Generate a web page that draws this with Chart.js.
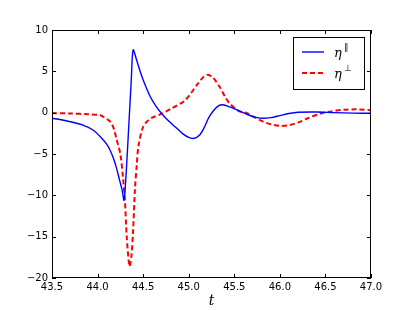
<!DOCTYPE html>
<html>
<head>
<meta charset="UTF-8">
<title>eta</title>
<script src="https://cdn.jsdelivr.net/npm/chart.js"></script>
<style>
  body { margin: 0; background: #fff; }
  canvas { display: block; }
</style>
</head>
<body>
<canvas id="grafico" width="413" height="310"></canvas>
<script>
// eta parallel (azul, continua)
var tPar = [43.5, 43.6, 43.7, 43.84, 43.95, 44.03, 44.1, 44.14, 44.18, 44.21, 44.24, 44.27, 44.29,
  44.31, 44.34, 44.37, 44.39, 44.43, 44.47, 44.52, 44.58, 44.64, 44.7, 44.76, 44.85, 44.93, 45.0,
  45.06, 45.12, 45.17, 45.22, 45.28, 45.33, 45.37, 45.45, 45.53, 45.65, 45.75, 45.82, 45.9,
  46.0, 46.1, 46.2, 46.4, 46.6, 46.8, 47.0];
var etaPar = [-0.68, -0.85, -1.1, -1.5, -2.1, -2.9, -3.8, -4.6, -5.7, -6.8, -8.1, -9.4, -10.6,
  -8.0, -2.1, 4.0, 7.6, 6.3, 4.9, 3.4, 1.9, 0.8, -0.07, -0.8, -1.7, -2.5, -3.0,
  -3.1, -2.7, -1.8, -0.6, 0.35, 0.85, 0.95, 0.7, 0.35, -0.25, -0.6, -0.68, -0.6,
  -0.35, -0.1, 0.05, 0.08, 0.0, -0.05, -0.07];

// eta perpendicular (vermelho, tracejada)
var tPerp = [43.5, 43.7, 43.9, 44.03, 44.07, 44.14, 44.18, 44.21, 44.25, 44.28, 44.3, 44.32, 44.35,
  44.37, 44.39, 44.41, 44.43, 44.45, 44.5, 44.54, 44.6, 44.67, 44.81, 44.96, 45.1, 45.16,
  45.21, 45.27, 45.34, 45.4, 45.45, 45.55, 45.64, 45.73, 45.82, 45.9, 46.0, 46.1, 46.2, 46.3,
  46.45, 46.55, 46.7, 46.85, 47.0];
var etaPerp = [-0.05, -0.1, -0.2, -0.3, -0.55, -1.1, -2.0, -3.3, -5.0, -8.0, -10.6, -15.0, -18.6,
  -17.5, -14.2, -9.3, -6.3, -3.9, -1.7, -1.1, -0.6, -0.3, 0.5, 1.5, 3.5, 4.3,
  4.6, 4.2, 3.1, 1.9, 1.1, 0.2, -0.07, -0.6, -1.1, -1.4, -1.6, -1.5, -1.2, -0.7,
  -0.1, 0.12, 0.35, 0.4, 0.3];

var legendSup = ["\u2225", "\u22A5"];

function pontos(ts, vs) {
  var out = [];
  for (var i = 0; i < ts.length; i++) out.push({ x: ts[i], y: vs[i] });
  return out;
}

// moldura, ticks para dentro e legenda no estilo do matplotlib
var moldura = {
  id: "moldura",
  afterDraw: function (chart) {
    var ctx = chart.ctx;
    var a = chart.chartArea;
    var sx = chart.scales.x, sy = chart.scales.y;
    ctx.save();
    ctx.strokeStyle = "#000";
    ctx.lineWidth = 1;
    ctx.strokeRect(a.left + 0.5, a.top + 0.5, a.right - a.left - 1, a.bottom - a.top - 1);
    ctx.beginPath();
    sx.ticks.forEach(function (t) {
      var px = Math.round(sx.getPixelForValue(t.value)) + 0.5;
      ctx.moveTo(px, a.bottom); ctx.lineTo(px, a.bottom - 4);
      ctx.moveTo(px, a.top); ctx.lineTo(px, a.top + 4);
    });
    sy.ticks.forEach(function (t) {
      var py = Math.round(sy.getPixelForValue(t.value)) + 0.5;
      ctx.moveTo(a.left, py); ctx.lineTo(a.left + 4, py);
      ctx.moveTo(a.right, py); ctx.lineTo(a.right - 4, py);
    });
    ctx.stroke();

    // legenda
    var bx = a.right - 78, by = a.top + 7, bw = 71, bh = 52;
    ctx.fillStyle = "#fff";
    ctx.fillRect(bx, by, bw, bh);
    ctx.strokeStyle = "#000";
    ctx.strokeRect(bx + 0.5, by + 0.5, bw, bh);
    chart.data.datasets.forEach(function (ds, i) {
      var y = by + 15 + i * 21;
      ctx.strokeStyle = ds.borderColor;
      ctx.lineWidth = ds.borderWidth;
      ctx.setLineDash(ds.borderDash || []);
      ctx.beginPath();
      ctx.moveTo(bx + 9, y); ctx.lineTo(bx + 31, y);
      ctx.stroke();
      ctx.setLineDash([]);
      ctx.fillStyle = "#000";
      ctx.textBaseline = "alphabetic";
      ctx.textAlign = "left";
      ctx.font = "italic 13px 'DejaVu Serif'";
      ctx.fillText(ds.label, bx + 41, y + 5);
      ctx.font = "9px 'DejaVu Sans'";
      ctx.fillText(legendSup[i], bx + 51, y - 2);
    });
    ctx.restore();
  }
};

var fonteTick = { family: "'DejaVu Sans'", size: 10 };

new Chart(document.getElementById("grafico"), {
  type: "line",
  data: {
    datasets: [
      {
        label: "\u03B7",
        data: pontos(tPar, etaPar),
        borderColor: "#0000ff",
        borderWidth: 1.4,
        pointRadius: 0,
        tension: 0.3,
        fill: false
      },
      {
        label: "\u03B7",
        data: pontos(tPerp, etaPerp),
        borderColor: "#ff0000",
        borderWidth: 2,
        borderDash: [5, 3],
        pointRadius: 0,
        tension: 0.3,
        fill: false
      }
    ]
  },
  options: {
    responsive: false,
    animation: false,
    devicePixelRatio: 1,
    layout: { padding: { top: 30, right: 42, left: 0, bottom: 0 } },
    plugins: { legend: { display: false }, tooltip: { enabled: false } },
    scales: {
      x: {
        type: "linear",
        min: 43.5,
        max: 47,
        grid: { display: false, drawTicks: false },
        border: { display: false },
        ticks: {
          stepSize: 0.5,
          autoSkip: false,
          maxRotation: 0,
          padding: 3,
          color: "#000",
          font: fonteTick,
          callback: function (v) { return v.toFixed(1); }
        },
        title: {
          display: true,
          text: "t",
          color: "#000",
          font: { family: "'DejaVu Serif'", style: "italic", size: 14 },
          padding: { top: 0, bottom: 0 }
        },
        afterFit: function (s) { s.height = 32; }
      },
      y: {
        min: -20,
        max: 10,
        grid: { display: false, drawTicks: false },
        border: { display: false },
        ticks: {
          stepSize: 5,
          padding: 4,
          color: "#000",
          font: fonteTick,
          callback: function (v) { return v < 0 ? "\u2212" + Math.abs(v) : String(v); }
        },
        afterFit: function (s) { s.width = 52; }
      }
    }
  },
  plugins: [moldura]
});
</script>
</body>
</html>
